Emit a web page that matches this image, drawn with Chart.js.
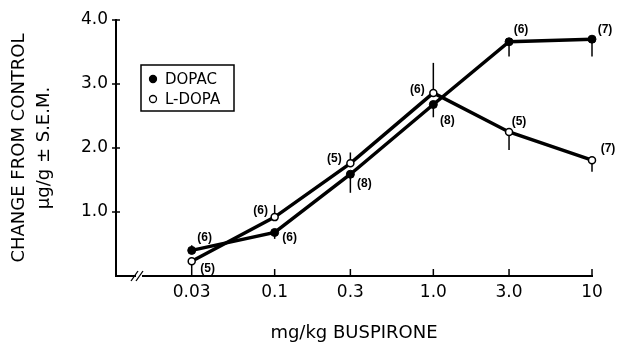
<!DOCTYPE html>
<html>
<head>
<meta charset="utf-8">
<script src="https://cdn.jsdelivr.net/npm/chart.js@4/dist/chart.umd.min.js"></script>
<style>
  body { margin: 0; background: #fff; }
  canvas { display: block; }
</style>
</head>
<body>
<canvas id="chart" width="617" height="345"></canvas>
<script>
// doses (mg/kg buspirone) and tick labels
const doses = [0.03, 0.1, 0.3, 1.0, 3.0, 10];
const doseLabels = ['0.03', '0.1', '0.3', '1.0', '3.0', '10'];
const yTicks = [1, 2, 3, 4];

// DOPAC (filled)
const dopacMean = [0.40, 0.68, 1.59, 2.68, 3.66, 3.70];
const dopacSem  = [0.08, 0.10, 0.29, 0.20, 0.23, 0.27];
const dopacSide = [1, -1, -1, -1, -1, -1];   // which half of the bar is drawn
const dopacN    = [6, 6, 8, 8, 6, 7];

// L-DOPA (open)
const ldopaMean = [0.23, 0.92, 1.76, 2.86, 2.25, 1.81];
const ldopaSem  = [0.12, 0.19, 0.17, 0.47, 0.28, 0.18];
const ldopaSide = [-1, 1, 1, 1, -1, -1];
const ldopaN    = [5, 6, 5, 6, 5, 7];

// where the (n) labels sit relative to each point
const dopacNPos = [[13, -13], [15, 5], [14, 9], [14, 16], [12, -12], [13, -10]];
const ldopaNPos = [[16, 7], [-14, -6], [-16, -5], [-16, -3], [10, -10], [16, -11]];

const FONT = '"DejaVu Sans", sans-serif';
const toPts = ys => doses.map((d, i) => ({ x: d, y: ys[i] }));

const marks = {
  id: 'marks',
  beforeDatasetsDraw(chart) {
    const { ctx, scales: { x, y } } = chart;
    ctx.save();
    ctx.strokeStyle = '#000';
    ctx.lineWidth = 1.5;
    chart.data.datasets.forEach(ds => {
      ds.data.forEach((p, i) => {
        const px = x.getPixelForValue(p.x);
        ctx.beginPath();
        ctx.moveTo(px, y.getPixelForValue(p.y));
        ctx.lineTo(px, y.getPixelForValue(p.y + ds.side[i] * ds.sem[i]));
        ctx.stroke();
      });
    });
    ctx.restore();
  },
  afterDraw(chart) {
    const { ctx, chartArea: ca, scales: { x, y } } = chart;
    ctx.save();
    ctx.strokeStyle = '#000';
    ctx.fillStyle = '#000';

    // tick marks
    ctx.lineWidth = 1.5;
    doses.forEach(d => {
      const px = x.getPixelForValue(d);
      ctx.beginPath(); ctx.moveTo(px, ca.bottom); ctx.lineTo(px, ca.bottom - 7); ctx.stroke();
    });
    yTicks.forEach(v => {
      const py = y.getPixelForValue(v);
      ctx.beginPath(); ctx.moveTo(ca.left - 4, py); ctx.lineTo(ca.left + 4, py); ctx.stroke();
    });

    // axis break
    const bx = ca.left + 22, by = ca.bottom;
    ctx.fillStyle = '#fff';
    ctx.fillRect(bx - 2, by - 2, 6, 4);
    ctx.fillStyle = '#000';
    ctx.lineWidth = 1.3;
    [-4, 1].forEach(o => {
      ctx.beginPath(); ctx.moveTo(bx + o - 3, by + 5); ctx.lineTo(bx + o + 4, by - 5); ctx.stroke();
    });

    // (n) labels
    ctx.font = 'bold 12px "Liberation Sans", sans-serif';
    ctx.textAlign = 'center';
    ctx.textBaseline = 'middle';
    chart.data.datasets.forEach(ds => {
      ds.data.forEach((p, i) => {
        const px = x.getPixelForValue(p.x), py = y.getPixelForValue(p.y);
        ctx.fillText('(' + ds.nCount[i] + ')', px + ds.nPos[i][0], py + ds.nPos[i][1]);
      });
    });

    // legend box
    const lx = ca.left + 25, ly = ca.top + 45;
    ctx.lineWidth = 1.5;
    ctx.strokeRect(lx, ly, 93, 46);
    ctx.font = '15px ' + FONT;
    ctx.textAlign = 'left';
    chart.data.datasets.forEach((ds, k) => {
      const cy = ly + 14 + k * 20;
      ctx.beginPath();
      ctx.arc(lx + 12, cy, 3.5, 0, Math.PI * 2);
      ctx.fillStyle = ds.pointBackgroundColor;
      ctx.fill();
      ctx.lineWidth = 1.3;
      ctx.stroke();
      ctx.fillStyle = '#000';
      ctx.fillText(ds.label, lx + 24, cy + 1);
    });
    ctx.restore();
  }
};

new Chart(document.getElementById('chart'), {
  type: 'line',
  data: {
    datasets: [
      {
        label: 'DOPAC', data: toPts(dopacMean), clip: false,
        sem: dopacSem, side: dopacSide, nCount: dopacN, nPos: dopacNPos,
        borderColor: '#000', borderWidth: 3.5, tension: 0, fill: false,
        pointRadius: 4, pointBackgroundColor: '#000', pointBorderColor: '#000', pointBorderWidth: 1
      },
      {
        label: 'L-DOPA', data: toPts(ldopaMean), clip: false,
        sem: ldopaSem, side: ldopaSide, nCount: ldopaN, nPos: ldopaNPos,
        borderColor: '#000', borderWidth: 3.5, tension: 0, fill: false,
        pointRadius: 3.5, pointBackgroundColor: '#fff', pointBorderColor: '#000', pointBorderWidth: 1.5
      }
    ]
  },
  options: {
    responsive: false,
    animation: false,
    layout: { padding: { top: 20, right: 25, left: 0, bottom: 0 } },
    plugins: { legend: { display: false }, tooltip: { enabled: false } },
    scales: {
      x: {
        type: 'logarithmic', min: 0.01, max: 10,
        afterBuildTicks: s => { s.ticks = doses.map(v => ({ value: v })); },
        afterFit: s => { s.height = 69; },
        grid: { display: false, drawTicks: false },
        border: { color: '#000', width: 2 },
        ticks: {
          autoSkip: false, maxRotation: 0, padding: 6, color: '#000',
          font: { family: FONT, size: 17 },
          callback: (v, i) => doseLabels[i]
        },
        title: {
          display: true, text: 'mg/kg BUSPIRONE', color: '#000',
          font: { family: FONT, size: 18 }, padding: { top: 0, bottom: 1 }
        }
      },
      y: {
        type: 'linear', min: 0, max: 4,
        afterBuildTicks: s => { s.ticks = yTicks.map(v => ({ value: v })); },
        afterFit: s => { s.width = 116; },
        grid: { display: false, drawTicks: false },
        border: { color: '#000', width: 2 },
        ticks: {
          padding: 8, color: '#000',
          font: { family: FONT, size: 17 },
          callback: v => Number(v).toFixed(1)
        },
        title: {
          display: true, text: ['CHANGE FROM CONTROL', 'μg/g ± S.E.M.'], color: '#000',
          font: { family: FONT, size: 18, lineHeight: 1.4 }, padding: { top: 7, bottom: 0 }
        }
      }
    }
  },
  plugins: [marks]
});
</script>
</body>
</html>
